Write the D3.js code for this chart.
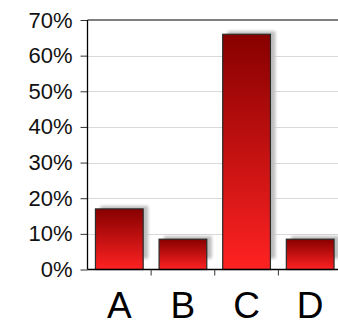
<!DOCTYPE html>
<html>
<head>
<meta charset="utf-8">
<script src="https://cdn.jsdelivr.net/npm/d3@7/dist/d3.min.js"></script>
<style>
  html, body { margin: 0; padding: 0; background: #fff; }
  svg { display: block; }
</style>
</head>
<body>
<svg id="chart" width="338" height="322"></svg>
<script>
// Share of responses per option
const categories = ["A", "B", "C", "D"];
const values = [0.17, 0.085, 0.66, 0.085];
const yTicks = [0, 0.1, 0.2, 0.3, 0.4, 0.5, 0.6, 0.7];

const svg = d3.select("#chart");
const margin = { left: 87.5, top: 20, right: -4, bottom: 52.5 };
const W = 338, H = 322;

const x = d3.scaleBand()
  .domain(categories)
  .range([margin.left, W - margin.right])
  .paddingInner(0.25)
  .paddingOuter(0.125);

const y = d3.scaleLinear()
  .domain([0, 0.7])
  .range([H - margin.bottom, margin.top]);

const defs = svg.append("defs");
const grad = defs.append("linearGradient")
  .attr("id", "barFill").attr("x1", 0).attr("y1", 0).attr("x2", 0).attr("y2", 1);
grad.append("stop").attr("offset", "0%").attr("stop-color", "#870000");
grad.append("stop").attr("offset", "100%").attr("stop-color", "#ff2222");

const blur = defs.append("filter").attr("id", "soft")
  .attr("x", "-20%").attr("y", "-20%").attr("width", "140%").attr("height", "140%");
blur.append("feGaussianBlur").attr("stdDeviation", 1.6);

// horizontal grid lines
svg.append("g").selectAll("line")
  .data(yTicks.filter(d => d > 0 && d < 0.7))
  .join("line")
  .attr("x1", margin.left).attr("x2", W)
  .attr("y1", d => Math.round(y(d)) + 0.5).attr("y2", d => Math.round(y(d)) + 0.5)
  .attr("stroke", "#d9d9d9").attr("stroke-width", 1);

// top frame line
svg.append("line")
  .attr("x1", margin.left).attr("x2", W)
  .attr("y1", y(0.7)).attr("y2", y(0.7))
  .attr("stroke", "#555").attr("stroke-width", 1.5);

// bar shadows
svg.append("g").selectAll("rect")
  .data(values)
  .join("rect")
  .attr("x", (d, i) => x(categories[i]) + 5)
  .attr("y", d => y(d) - 3)
  .attr("width", x.bandwidth())
  .attr("height", d => y(0) - y(d) - 8)
  .attr("fill", "#bdbdbd")
  .attr("filter", "url(#soft)");

// bars
svg.append("g").selectAll("rect")
  .data(values)
  .join("rect")
  .attr("x", (d, i) => x(categories[i]))
  .attr("y", d => y(d))
  .attr("width", x.bandwidth())
  .attr("height", d => y(0) - y(d))
  .attr("fill", "url(#barFill)")
  .attr("stroke", "#2a2a2a")
  .attr("stroke-width", 1.2);

// y axis
const yAxis = d3.axisLeft(y)
  .tickValues(yTicks)
  .tickFormat(d3.format(".0%"))
  .tickSize(7)
  .tickPadding(8);
const gy = svg.append("g")
  .attr("transform", `translate(${margin.left},0)`)
  .call(yAxis);
gy.select(".domain").remove();
gy.selectAll(".tick line").attr("stroke", "#333");
gy.selectAll("text")
  .attr("font-family", "Liberation Sans, Arial, sans-serif")
  .attr("font-size", 22)
  .attr("fill", "#111");
svg.append("line")
  .attr("x1", margin.left).attr("x2", margin.left)
  .attr("y1", y(0.7)).attr("y2", y(0))
  .attr("stroke", "#000").attr("stroke-width", 1.3);

// x axis
svg.append("line")
  .attr("x1", margin.left).attr("x2", W)
  .attr("y1", y(0)).attr("y2", y(0))
  .attr("stroke", "#000").attr("stroke-width", 1.3);

const step = x.step();
svg.append("g").selectAll("line")
  .data(categories.slice(1))
  .join("line")
  .attr("x1", d => x(d) - step * x.paddingInner() / 2)
  .attr("x2", d => x(d) - step * x.paddingInner() / 2)
  .attr("y1", y(0)).attr("y2", y(0) + 6)
  .attr("stroke", "#333");

svg.append("g").selectAll("text")
  .data(categories)
  .join("text")
  .attr("x", d => x(d) + x.bandwidth() / 2)
  .attr("y", 318)
  .attr("text-anchor", "middle")
  .attr("font-family", "Liberation Sans, Arial, sans-serif")
  .attr("font-size", 37)
  .attr("fill", "#000")
  .text(d => d);
</script>
</body>
</html>
